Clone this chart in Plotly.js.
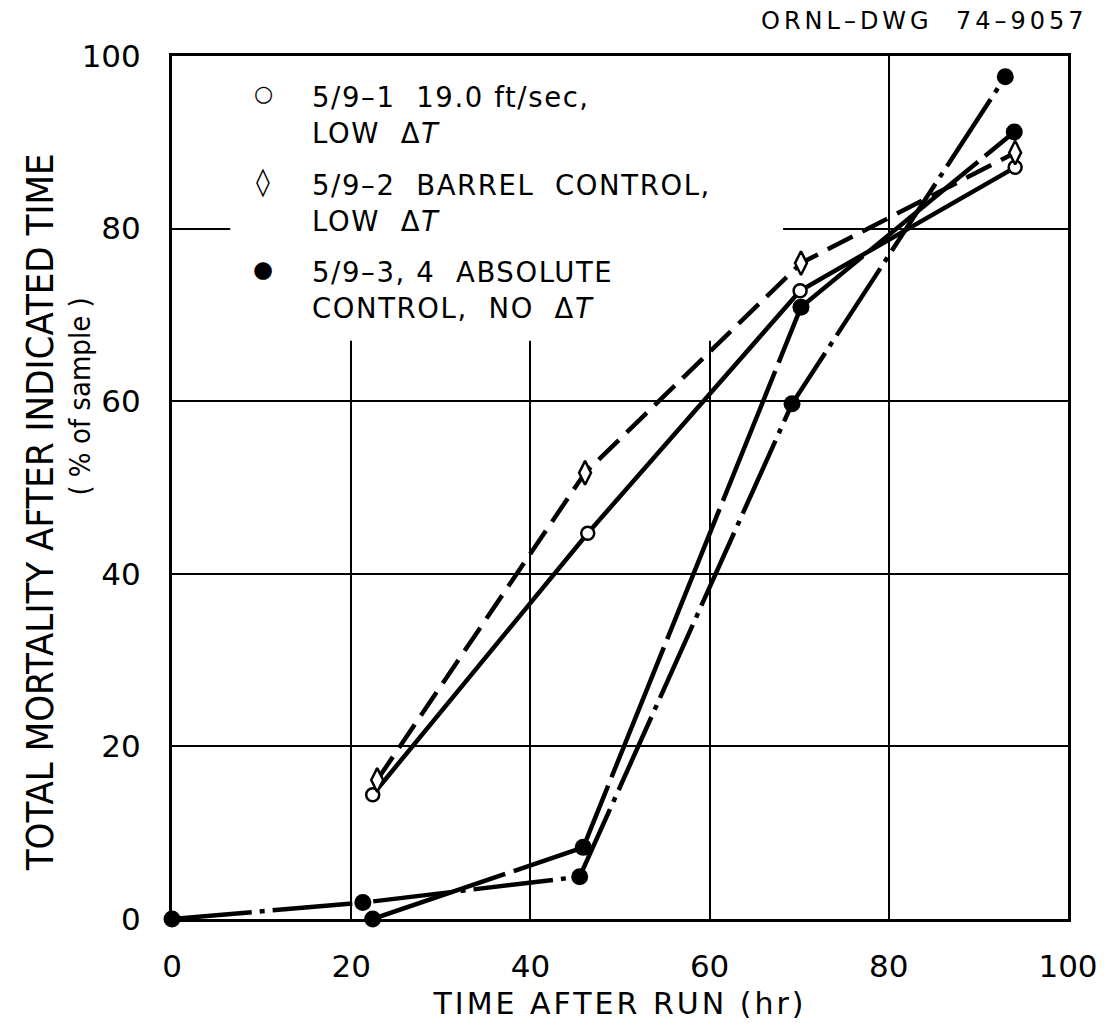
<!DOCTYPE html>
<html>
<head>
<meta charset="utf-8">
<script src="https://cdn.plot.ly/plotly-3.0.1.min.js"></script>
<style>
  html, body { margin: 0; padding: 0; background: #fff; }
  #chart { width: 1109px; height: 1027px; }
</style>
</head>
<body>
<div id="chart"></div>
<script>
// ---- data ----
const xTicks = [0, 20, 40, 60, 80, 100];
const yTicks = [0, 20, 40, 60, 80, 100];

// 5/9-1 19.0 ft/sec, LOW ΔT (open circles, solid line)
const timeRun1 = [22.4, 46.4, 70.1, 94.1];
const mortRun1 = [14.4, 44.7, 72.8, 87.1];

// 5/9-2 BARREL CONTROL, LOW ΔT (open diamonds, dashed line)
const timeRun2 = [22.9, 46.1, 70.2, 94.1];
const mortRun2 = [16.1, 51.7, 76.0, 88.8];

// 5/9-3 ABSOLUTE CONTROL, NO ΔT (filled circles)
const timeRun3 = [0, 21.3, 45.5, 69.2, 93.0];
const mortRun3 = [0, 1.9, 4.9, 59.7, 97.6];

// 5/9-4 ABSOLUTE CONTROL, NO ΔT (filled circles)
const timeRun4 = [22.4, 45.9, 70.2, 94.0];
const mortRun4 = [0, 8.3, 70.9, 91.2];

const legendLine1 = ["5/9\u20131  19.0 ft/sec,", "5/9\u20132  BARREL  CONTROL,", "5/9\u20133, 4  ABSOLUTE"];
const legendLine2 = ["LOW  \u0394<i>T</i>", "LOW  \u0394<i>T</i>", "CONTROL,  NO  \u0394<i>T</i>"];
const legendSymbols = ["\u25CB", "\u25CA", "\u25CF"];

const FONT = "DejaVu Sans, Liberation Sans, sans-serif";
const COND = "DejaVu Sans Condensed, Liberation Sans Narrow, sans-serif";
const LW = 4.5;
const sp = (t, px) => '<span style="letter-spacing:' + px + 'px">' + t + '</span>';

const traces = [
  {
    x: timeRun3, y: mortRun3, mode: "lines+markers", cliponaxis: false,
    line: { color: "black", width: LW, dash: "80px,8px,5px,8px" },
    marker: { symbol: "circle", size: 17, color: "black" }
  },
  {
    x: timeRun4, y: mortRun4, mode: "lines+markers", cliponaxis: false,
    line: { color: "black", width: LW, dash: "140px,9px" },
    marker: { symbol: "circle", size: 17, color: "black" }
  },
  {
    x: timeRun1, y: mortRun1, mode: "lines+markers", cliponaxis: false,
    line: { color: "black", width: LW },
    marker: { symbol: "circle", size: 13, color: "white", line: { color: "black", width: 2.5 } }
  },
  {
    x: timeRun2, y: mortRun2, mode: "lines+markers", cliponaxis: false,
    line: { color: "black", width: LW, dash: "28px,11px" },
    marker: { symbol: "diamond-tall", size: 17, color: "white", line: { color: "black", width: 2.5 } }
  }
];

const annotations = [];
const legYc = [0.932, 0.830, 0.7294];
const legYs = [0.952, 0.8505, 0.7497];
const symSize = [22, 28, 23];
for (let i = 0; i < legendLine1.length; i++) {
  annotations.push({
    xref: "paper", yref: "paper", x: 0.154, y: legYc[i], xanchor: "left", yanchor: "middle",
    text: sp(legendLine1[i], 1.6) + "<br>" + sp(legendLine2[i], 1.6), showarrow: false, align: "left",
    font: { family: FONT, size: 27.5, color: "black" }
  });
  annotations.push({
    xref: "paper", yref: "paper", x: 0.1016, y: legYs[i] + 0.004, xanchor: "center", yanchor: "middle",
    text: legendSymbols[i], showarrow: false,
    font: { family: FONT, size: symSize[i], color: "black" }
  });
}
// drawing number
annotations.push({
  xref: "paper", yref: "paper", x: 1.025, y: 1.04, xanchor: "right", yanchor: "middle",
  text: sp("ORNL\u2013DWG  74\u20139057", 4), showarrow: false,
  font: { family: FONT, size: 24, color: "black" }
});
// y-axis title (two lines)
annotations.push({
  xref: "paper", yref: "paper", x: -0.147, y: 0.4716, xanchor: "center", yanchor: "middle",
  textangle: -90, showarrow: false,
  text: "TOTAL MORTALITY AFTER INDICATED TIME",
  font: { family: COND, size: 38, color: "black" }
});
annotations.push({
  xref: "paper", yref: "paper", x: -0.103, y: 0.605, xanchor: "center", yanchor: "middle",
  textangle: -90, showarrow: false,
  text: "( % of sample )",
  font: { family: COND, size: 29, color: "black" }
});

const layout = {
  width: 1109, height: 1027,
  margin: { l: 172, r: 41, t: 56, b: 108 },
  paper_bgcolor: "white", plot_bgcolor: "white",
  showlegend: false,
  font: { family: FONT, color: "black" },
  xaxis: {
    range: [0, 100], tickvals: xTicks, ticktext: xTicks.map(String),
    showgrid: true, gridcolor: "black", gridwidth: 2,
    showline: true, mirror: true, linecolor: "black", linewidth: 3,
    zeroline: false, ticks: "outside", ticklen: 18, tickcolor: "rgba(0,0,0,0)",
    tickfont: { family: FONT, size: 31, color: "black" },
    title: { text: sp("TIME AFTER RUN (hr)", 3), font: { family: FONT, size: 30, color: "black" }, standoff: 10 }
  },
  yaxis: {
    range: [0, 100], tickvals: yTicks, ticktext: yTicks.map(String),
    showgrid: true, gridcolor: "black", gridwidth: 2,
    showline: true, mirror: true, linecolor: "black", linewidth: 3,
    zeroline: false, ticks: "outside", ticklen: 22, tickcolor: "rgba(0,0,0,0)",
    tickfont: { family: FONT, size: 31, color: "black" }
  },
  shapes: [
    { type: "rect", xref: "x", yref: "y", x0: 6.5, x1: 68.2, y0: 67, y1: 100,
      fillcolor: "white", line: { width: 0 }, layer: "between" }
  ],
  annotations: annotations
};

Plotly.newPlot("chart", traces, layout, { staticPlot: true, displayModeBar: false });
</script>
</body>
</html>
